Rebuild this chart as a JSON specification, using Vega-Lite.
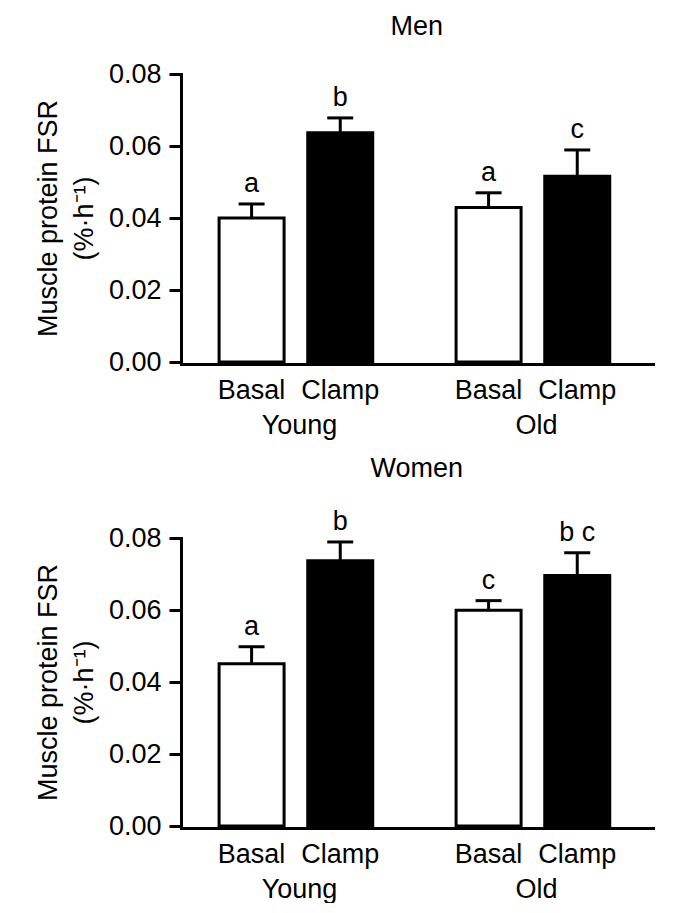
{
  "$schema": "https://vega.github.io/schema/vega-lite/v6.json",
  "padding": {"left": 34, "top": 13, "right": 0, "bottom": 0},
  "background": "white",
  "config": {
    "font": "Liberation Sans",
    "view": {"stroke": null},
    "axis": {
      "domainColor": "black", "domainWidth": 3, "domainCap": "square",
      "tickColor": "black", "tickWidth": 3,
      "labelColor": "black", "titleColor": "black",
      "labelFontSize": 27, "titleFontSize": 27, "titleFontWeight": "normal",
      "grid": false
    },
    "title": {"fontSize": 27, "fontWeight": "normal", "color": "black", "anchor": "middle", "frame": "bounds"},
    "header": {"labelFontSize": 27, "labelColor": "black", "labelOrient": "bottom", "title": null}
  },
  "datasets": {
    "fsr": [
      {"sex": "Men", "age": "Young", "cond": "Basal", "value": 0.0400, "upper": 0.0439, "letter": "a"},
      {"sex": "Men", "age": "Young", "cond": "Clamp", "value": 0.0637, "upper": 0.0678, "letter": "b"},
      {"sex": "Men", "age": "Old", "cond": "Basal", "value": 0.0429, "upper": 0.0470, "letter": "a"},
      {"sex": "Men", "age": "Old", "cond": "Clamp", "value": 0.0516, "upper": 0.0589, "letter": "c"},
      {"sex": "Women", "age": "Young", "cond": "Basal", "value": 0.0451, "upper": 0.0498, "letter": "a"},
      {"sex": "Women", "age": "Young", "cond": "Clamp", "value": 0.0737, "upper": 0.0789, "letter": "b"},
      {"sex": "Women", "age": "Old", "cond": "Basal", "value": 0.0599, "upper": 0.0626, "letter": "c"},
      {"sex": "Women", "age": "Old", "cond": "Clamp", "value": 0.0696, "upper": 0.0759, "letter": "b c"}
    ]
  },
  "spacing": 15,
  "vconcat": [
    {
      "data": {"name": "fsr"},
      "transform": [{"filter": "datum.sex == 'Men'"}],
      "title": {"text": "Men", "offset": 19, "dx": 72},
      "facet": {"column": {"field": "age", "type": "nominal", "sort": ["Young", "Old"], "header": {"title": null, "labelOrient": "bottom", "labelPadding": 10}}},
      "spacing": {"column": 0},
      "spec": {
        "width": 237, "height": 288,
        "encoding": {
          "x": {"field": "cond", "type": "nominal", "sort": ["Basal", "Clamp"],
                "scale": {"paddingInner": 0.267, "paddingOuter": 0.47, "align": 0.457},
                "axis": {"title": null, "ticks": false, "labelAngle": 0, "labelPadding": 13}}
        },
        "layer": [
          {"mark": {"type": "bar", "stroke": "black", "strokeWidth": 3},
           "encoding": {
             "y": {"field": "value", "type": "quantitative", "scale": {"domain": [0, 0.08]},
                   "axis": {"values": [0, 0.01, 0.02, 0.03, 0.04, 0.05, 0.06, 0.07, 0.08],
                            "labelExpr": "round(datum.value*100) % 2 == 0 ? format(datum.value, '.2f') : ''",
                            "tickSize": 12, "labelPadding": 8,
                            "title": ["Muscle protein FSR", "(%·h⁻¹)"], "titleLineHeight": 36, "titlePadding": 10}},
             "fill": {"field": "cond", "type": "nominal", "scale": {"domain": ["Basal", "Clamp"], "range": ["white", "black"]}, "legend": null}
           }},
          {"mark": {"type": "rule", "strokeWidth": 3, "color": "black"},
           "encoding": {"y": {"field": "value", "type": "quantitative"}, "y2": {"field": "upper"}}},
          {"mark": {"type": "tick", "thickness": 3, "size": 26, "color": "black", "opacity": 1},
           "encoding": {"y": {"field": "upper", "type": "quantitative"}}},
          {"mark": {"type": "text", "baseline": "alphabetic", "dy": -12, "fontSize": 27, "color": "black"},
           "encoding": {"y": {"field": "upper", "type": "quantitative"}, "text": {"field": "letter"}}}
        ]
      }
    },
    {
      "data": {"name": "fsr"},
      "transform": [{"filter": "datum.sex == 'Women'"}],
      "title": {"text": "Women", "offset": 25, "dx": 72},
      "facet": {"column": {"field": "age", "type": "nominal", "sort": ["Young", "Old"], "header": {"title": null, "labelOrient": "bottom", "labelPadding": 10}}},
      "spacing": {"column": 0},
      "spec": {
        "width": 237, "height": 288,
        "encoding": {
          "x": {"field": "cond", "type": "nominal", "sort": ["Basal", "Clamp"],
                "scale": {"paddingInner": 0.267, "paddingOuter": 0.47, "align": 0.457},
                "axis": {"title": null, "ticks": false, "labelAngle": 0, "labelPadding": 13}}
        },
        "layer": [
          {"mark": {"type": "bar", "stroke": "black", "strokeWidth": 3},
           "encoding": {
             "y": {"field": "value", "type": "quantitative", "scale": {"domain": [0, 0.08]},
                   "axis": {"values": [0, 0.01, 0.02, 0.03, 0.04, 0.05, 0.06, 0.07, 0.08],
                            "labelExpr": "round(datum.value*100) % 2 == 0 ? format(datum.value, '.2f') : ''",
                            "tickSize": 12, "labelPadding": 8,
                            "title": ["Muscle protein FSR", "(%·h⁻¹)"], "titleLineHeight": 36, "titlePadding": 10}},
             "fill": {"field": "cond", "type": "nominal", "scale": {"domain": ["Basal", "Clamp"], "range": ["white", "black"]}, "legend": null}
           }},
          {"mark": {"type": "rule", "strokeWidth": 3, "color": "black"},
           "encoding": {"y": {"field": "value", "type": "quantitative"}, "y2": {"field": "upper"}}},
          {"mark": {"type": "tick", "thickness": 3, "size": 26, "color": "black", "opacity": 1},
           "encoding": {"y": {"field": "upper", "type": "quantitative"}}},
          {"mark": {"type": "text", "baseline": "alphabetic", "dy": -12, "fontSize": 27, "color": "black"},
           "encoding": {"y": {"field": "upper", "type": "quantitative"}, "text": {"field": "letter"}}}
        ]
      }
    }
  ]
}
